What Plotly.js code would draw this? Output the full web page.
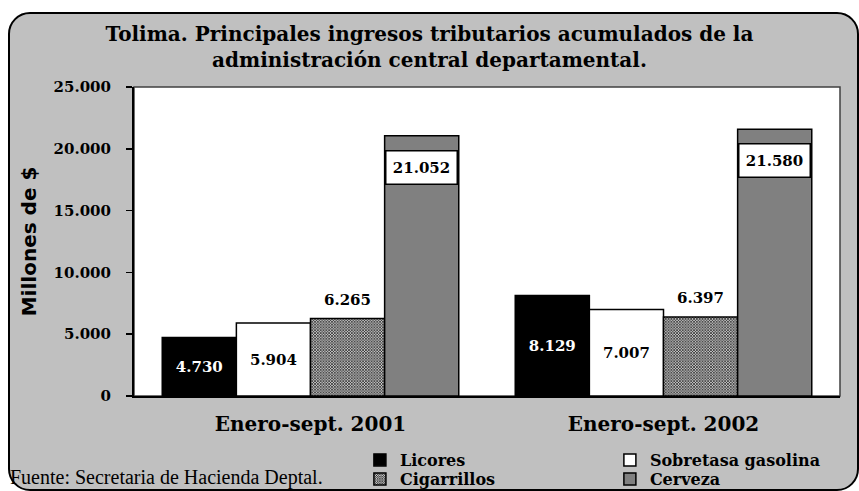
<!DOCTYPE html>
<html>
<head>
<meta charset="utf-8">
<script src="https://cdn.plot.ly/plotly-3.0.1.min.js"></script>
<style>
  html, body { margin: 0; padding: 0; background: #ffffff; }
  #frame {
    position: absolute; left: 8px; top: 12px; width: 847px; height: 475px;
    border: 2px solid #000; border-radius: 22px; background: #c0c0c0;
  }
  #chart { position: absolute; left: 0; top: 0; width: 859px; height: 491px; }
</style>
</head>
<body>
<div id="frame"></div>
<div id="chart"></div>
<script>
const categories = ['Enero-sept. 2001', 'Enero-sept. 2002'];
const licores = [4730, 8129];
const sobretasa = [5904, 7007];
const cigarrillos = [6265, 6397];
const cerveza = [21052, 21580];
const seriesNames = ['Licores', 'Sobretasa gasolina', 'Cigarrillos', 'Cerveza'];
const yTicks = [0, 5000, 10000, 15000, 20000, 25000];

const SERIF = 'DejaVu Serif, serif';
const fmt = v => String(v).replace(/\B(?=(\d{3})+(?!\d))/g, '.');

const barLine = { color: '#000', width: 1.5 };
const valueFont = { family: SERIF, size: 15, color: '#000', weight: 'bold' };

const traces = [
  {
    type: 'bar', name: seriesNames[0], x: categories, y: licores, legend: 'legend',
    marker: { color: '#000000', line: barLine },
    texttemplate: '%{y:,}', textposition: 'inside', insidetextanchor: 'middle',
    textfont: Object.assign({}, valueFont, { color: '#fff' }), hoverinfo: 'skip'
  },
  {
    type: 'bar', name: seriesNames[1], x: categories, y: sobretasa, legend: 'legend2',
    marker: { color: '#ffffff', line: barLine },
    texttemplate: '%{y:,}', textposition: 'inside', insidetextanchor: 'middle',
    textfont: valueFont, hoverinfo: 'skip'
  },
  {
    type: 'bar', name: seriesNames[2], x: categories, y: cigarrillos, legend: 'legend3',
    marker: { color: '#909090', line: barLine,
      pattern: { shape: 'x', size: 2, solidity: 0.5, fgcolor: '#000000', bgcolor: '#c8c8c8' } },
    hoverinfo: 'skip'
  },
  {
    type: 'bar', name: seriesNames[3], x: categories, y: cerveza, legend: 'legend4',
    marker: { color: '#808080', line: barLine },
    hoverinfo: 'skip'
  }
];

const annotations = [];
categories.forEach((c, i) => {
  annotations.push({
    x: c, y: cigarrillos[i], xref: 'x', yref: 'y', xshift: 37, yshift: 8,
    yanchor: 'bottom', text: fmt(cigarrillos[i]), showarrow: false, font: valueFont
  });
  annotations.push({
    x: c, y: cerveza[i], xref: 'x', yref: 'y', xshift: 111, yshift: -14,
    yanchor: 'top', text: fmt(cerveza[i]), showarrow: false, font: valueFont,
    bgcolor: '#ffffff', bordercolor: '#000', borderwidth: 1.5, width: 68, height: 30
  });
});
annotations.push({
  xref: 'paper', yref: 'paper', x: -0.178, y: -0.265, xanchor: 'left', yanchor: 'middle',
  text: 'Fuente: Secretaria de Hacienda Deptal.', showarrow: false,
  font: { family: 'Liberation Serif, serif', size: 20, color: '#000' }
});

const legendFont = { family: SERIF, size: 16, weight: 'bold', color: '#000' };
function legendAt(x, y) {
  return {
    orientation: 'h', xref: 'container', yref: 'container',
    x: x, xanchor: 'left', y: y, yanchor: 'top',
    bgcolor: 'rgba(0,0,0,0)', borderwidth: 0, font: legendFont,
    itemclick: false, itemdoubleclick: false
  };
}

const layout = {
  width: 859, height: 491,
  margin: { l: 134, r: 19, t: 87, b: 95 },
  paper_bgcolor: 'rgba(0,0,0,0)', plot_bgcolor: '#ffffff',
  separators: ',.',
  barmode: 'group', bargap: 0.16, bargroupgap: 0,
  font: { family: SERIF, color: '#000' },
  title: {
    text: 'Tolima. Principales ingresos tributarios acumulados de la<br>administración central departamental.',
    font: { family: SERIF, size: 20, color: '#000', weight: 'bold' },
    x: 0.5, xanchor: 'center', xref: 'container', y: 0.916, yanchor: 'top', yref: 'container'
  },
  xaxis: {
    showline: true, linecolor: '#000', linewidth: 2,
    ticks: '', tickfont: { family: SERIF, size: 20, weight: 'bold' },
    ticklabelstandoff: 9, fixedrange: true
  },
  yaxis: {
    range: [0, 25000], tickvals: yTicks, tickformat: ',d',
    showline: true, linecolor: '#000', linewidth: 2,
    ticks: 'outside', ticklen: 6, tickcolor: '#000', tickwidth: 1.5,
    showgrid: false, zeroline: false,
    tickfont: { family: SERIF, size: 15, weight: 'bold' }, ticklabelstandoff: 12,
    automargin: true,
    title: { text: 'Millones de $', standoff: 12,
      font: { family: 'DejaVu Sans, sans-serif', size: 20, weight: 'bold' } },
    fixedrange: true
  },
  shapes: [{
    type: 'rect', xref: 'paper', yref: 'paper', x0: 0, x1: 1, y0: 0, y1: 1,
    line: { color: '#404040', width: 1.5 }, layer: 'below'
  }],
  showlegend: true,
  legend: legendAt(0.419, 0.0978),
  legend2: legendAt(0.710, 0.0978),
  legend3: legendAt(0.419, 0.0591),
  legend4: legendAt(0.710, 0.0591),
  annotations: annotations
};

Plotly.newPlot('chart', traces, layout, { displayModeBar: false, staticPlot: true });
</script>
</body>
</html>
